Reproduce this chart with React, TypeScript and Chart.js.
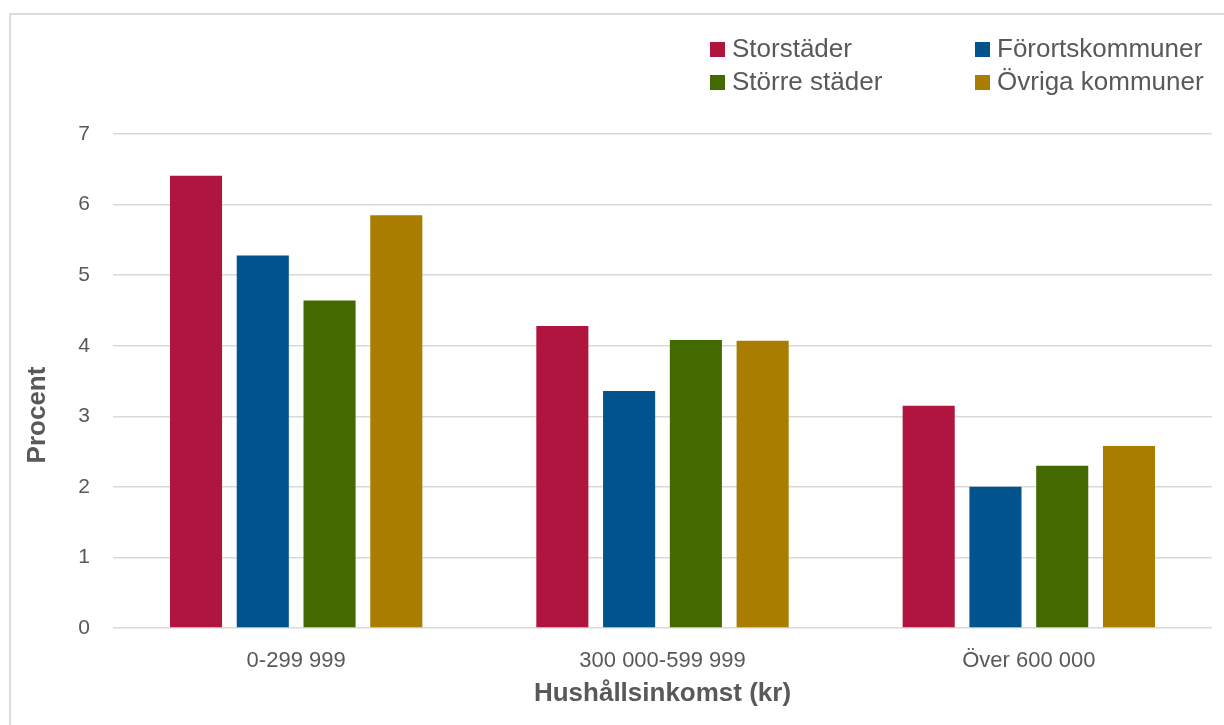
import React, { useEffect, useRef } from "react";
import { Chart, registerables } from "chart.js";

Chart.register(...registerables);

const categories = ["0-299 999", "300 000-599 999", "Över 600 000"];
const seriesNames = ["Storstäder", "Förortskommuner", "Större städer", "Övriga kommuner"];
const storstader = [6.41, 4.28, 3.15];
const fororts = [5.28, 3.36, 2.0];
const storreStader = [4.64, 4.08, 2.3];
const ovriga = [5.85, 4.07, 2.58];
const seriesColors = ["#B0153F", "#00538C", "#436A00", "#A87D00"];
const yTicks = [0, 1, 2, 3, 4, 5, 6, 7];
const xTitle = "Hushållsinkomst (kr)";
const yTitle = "Procent";

const FONT = "'Liberation Sans', Arial, sans-serif";
const TEXT = "#595959";

const legendPlugin = {
  id: "gridLegend",
  afterDraw(chart: any) {
    const ctx = chart.ctx;
    const colX = [710, 975];
    const rowY = [49, 82];
    ctx.save();
    ctx.font = `26px ${FONT}`;
    ctx.textBaseline = "middle";
    ctx.textAlign = "left";
    chart.data.datasets.forEach((ds: any, i: number) => {
      const x = colX[i % 2];
      const y = rowY[Math.floor(i / 2)];
      ctx.fillStyle = ds.backgroundColor;
      ctx.fillRect(x, y - 7, 15, 15);
      ctx.fillStyle = TEXT;
      ctx.fillText(ds.label, x + 22, y + 1);
    });
    ctx.restore();
  },
};

const yTitlePlugin = {
  id: "yTitle",
  afterDraw(chart: any) {
    const ctx = chart.ctx;
    ctx.save();
    ctx.translate(38, 415);
    ctx.rotate(-Math.PI / 2);
    ctx.font = `bold 26px ${FONT}`;
    ctx.fillStyle = TEXT;
    ctx.textAlign = "center";
    ctx.textBaseline = "middle";
    ctx.fillText(yTitle, 0, 0);
    ctx.restore();
  },
};

export default function App() {
  const ref = useRef<HTMLCanvasElement | null>(null);
  useEffect(() => {
    if (!ref.current) return;
    const values = [storstader, fororts, storreStader, ovriga];
    const chart = new Chart(ref.current, {
      type: "bar",
      data: {
        labels: categories,
        datasets: seriesNames.map((name, i) => ({
          label: name,
          data: values[i],
          backgroundColor: seriesColors[i],
          borderWidth: 0,
          categoryPercentage: 0.729,
          barPercentage: 0.78,
        })),
      },
      options: {
        animation: false,
        responsive: false,
        maintainAspectRatio: false,
        layout: { padding: { left: 0, right: 12, top: 134, bottom: 0 } },
        plugins: {
          legend: { display: false },
          tooltip: { enabled: false },
        },
        scales: {
          x: {
            grid: { display: false, drawTicks: false },
            border: { display: false },
            ticks: { color: TEXT, font: { family: FONT, size: 22 }, padding: 20 },
            title: {
              display: true,
              text: xTitle,
              color: TEXT,
              font: { family: FONT, size: 26, weight: "bold" },
              padding: { top: 0, bottom: 16 },
            },
            afterFit(scale: any) {
              scale.height = 97;
            },
          },
          y: {
            min: 0,
            max: 7,
            afterBuildTicks(scale: any) {
              scale.ticks = yTicks.map((v) => ({ value: v }));
            },
            grid: { color: "#d9d9d9", lineWidth: 1.5, drawTicks: false },
            border: { display: false },
            ticks: { color: TEXT, font: { family: FONT, size: 21 }, padding: 23 },
            afterFit(scale: any) {
              scale.width = 113;
            },
          },
        },
      },
      plugins: [legendPlugin, yTitlePlugin],
    });
    return () => chart.destroy();
  }, []);

  return (
    <div style={{ position: "fixed", left: 0, top: 0, width: 1224, height: 725, background: "#fff" }}>
      <div
        style={{
          position: "absolute",
          left: 9,
          top: 13,
          width: 1214,
          height: 720,
          borderLeft: "2px solid #dcdcdc",
          borderTop: "2px solid #dcdcdc",
        }}
      />
      <canvas ref={ref} width={1224} height={725} style={{ position: "absolute", left: 0, top: 0 }} />
    </div>
  );
}
